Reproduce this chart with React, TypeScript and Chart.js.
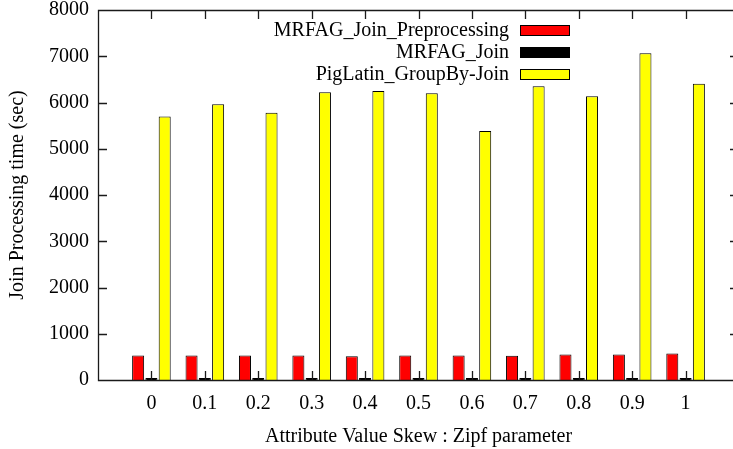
import React, { useEffect, useRef } from 'react';
import { Chart, registerables } from 'chart.js';

Chart.register(...registerables);

const categories = ['0', '0.1', '0.2', '0.3', '0.4', '0.5', '0.6', '0.7', '0.8', '0.9', '1'];
const preprocessing = [530, 530, 530, 530, 515, 530, 530, 525, 550, 550, 575];
const joinTime = [45, 45, 45, 45, 45, 45, 45, 45, 45, 45, 45];
const pigLatin = [5700, 5960, 5780, 6220, 6250, 6200, 5385, 6350, 6135, 7065, 6405];
const seriesNames = ['MRFAG_Join_Preprocessing', 'MRFAG_Join', 'PigLatin_GroupBy-Join'];
const seriesColors = ['#ff0000', '#000000', '#ffff00'];
const yMin = 0;
const yMax = 8000;
const yStep = 1000;

const FONT = '"Liberation Serif", "Times New Roman", serif';

const pad = (arr: (number | string)[]) => [null, ...arr, null];

const framePlugin = {
  id: 'gpFrame',
  afterDatasetsDraw(chart: any) {
    const { ctx, chartArea, scales } = chart;
    const { left, right, top, bottom } = chartArea;
    const x = scales.x;
    const y = scales.y;
    const L = 9;
    ctx.save();
    ctx.strokeStyle = '#1a1a1a';
    ctx.lineWidth = 1.3;
    ctx.beginPath();
    ctx.rect(Math.round(left) + 0.5, Math.round(top) + 0.5, Math.round(right - left), Math.round(bottom - top));
    y.ticks.forEach((_t: any, i: number) => {
      const py = Math.round(y.getPixelForTick(i)) + 0.5;
      ctx.moveTo(left, py);
      ctx.lineTo(left + L, py);
      ctx.moveTo(right, py);
      ctx.lineTo(right - L, py);
    });
    categories.forEach((_c, i) => {
      const px = Math.round(x.getPixelForValue(i + 1)) + 0.5;
      ctx.moveTo(px, top);
      ctx.lineTo(px, top + L);
      ctx.moveTo(px, bottom);
      ctx.lineTo(px, bottom - L);
    });
    ctx.stroke();
    ctx.restore();
  },
};

const legendPlugin = {
  id: 'gpLegend',
  afterDraw(chart: any) {
    const ctx = chart.ctx;
    const textRight = 509;
    const boxLeft = 520;
    const boxW = 50;
    const boxH = 11;
    const firstBaseline = 36;
    const rowGap = 21.75;
    ctx.save();
    chart.data.datasets.forEach((ds: any, i: number) => {
      const base = Math.round(firstBaseline + i * rowGap);
      ctx.font = `20px ${FONT}`;
      ctx.textAlign = 'right';
      ctx.textBaseline = 'alphabetic';
      ctx.fillStyle = '#000';
      ctx.fillText(ds.label, textRight, base);
      ctx.fillStyle = ds.backgroundColor;
      ctx.fillRect(boxLeft, base - boxH, boxW, boxH);
      ctx.strokeStyle = '#000';
      ctx.lineWidth = 1;
      ctx.strokeRect(boxLeft + 0.5, base - boxH + 0.5, boxW - 1, boxH - 1);
    });
    ctx.restore();
  },
};

export default function App() {
  const ref = useRef<HTMLCanvasElement | null>(null);

  useEffect(() => {
    if (!ref.current) return;
    const values = [preprocessing, joinTime, pigLatin];
    const chart = new Chart(ref.current, {
      type: 'bar',
      data: {
        labels: pad(categories) as any,
        datasets: values.map((v, i) => ({
          label: seriesNames[i],
          data: pad(v) as any,
          backgroundColor: seriesColors[i],
          borderColor: '#000',
          borderWidth: 1,
          categoryPercentage: 0.746,
          barPercentage: 0.905,
        })),
      },
      options: {
        responsive: false,
        animation: false,
        devicePixelRatio: 1,
        layout: { padding: { left: 0, right: 7, top: 10, bottom: 0 } },
        plugins: {
          legend: { display: false },
          tooltip: { enabled: false },
        },
        scales: {
          x: {
            type: 'category',
            offset: false,
            grid: { display: false, drawTicks: false },
            border: { display: false },
            ticks: {
              autoSkip: false,
              maxRotation: 0,
              minRotation: 0,
              padding: 12,
              color: '#000',
              font: { family: FONT, size: 20 },
            },
            title: {
              display: true,
              text: 'Attribute Value Skew : Zipf parameter',
              color: '#000',
              font: { family: FONT, size: 20 },
              padding: { top: 0, bottom: 0 },
            },
            afterFit(scale: any) {
              scale.height = 69;
              scale.paddingLeft = 0;
              scale.paddingRight = 0;
            },
          },
          y: {
            min: yMin,
            max: yMax,
            grid: { display: false, drawTicks: false },
            border: { display: false },
            ticks: {
              stepSize: yStep,
              padding: 9,
              color: '#000',
              font: { family: FONT, size: 20 },
              callback: (v: any) => String(v),
            },
            title: {
              display: true,
              text: 'Join Processing time (sec)',
              color: '#000',
              font: { family: FONT, size: 20 },
              padding: { top: 6, bottom: 0 },
            },
            afterFit(scale: any) {
              scale.width = 98;
              scale.paddingTop = 0;
              scale.paddingBottom = 0;
            },
          },
        },
      },
      plugins: [framePlugin, legendPlugin],
    });
    return () => chart.destroy();
  }, []);

  return (
    <div
      style={{
        position: 'fixed',
        left: 0,
        top: 0,
        width: 733,
        height: 449,
        overflow: 'hidden',
        background: '#fff',
      }}
    >
      <canvas ref={ref} width={746} height={449} style={{ display: 'block' }} />
    </div>
  );
}
